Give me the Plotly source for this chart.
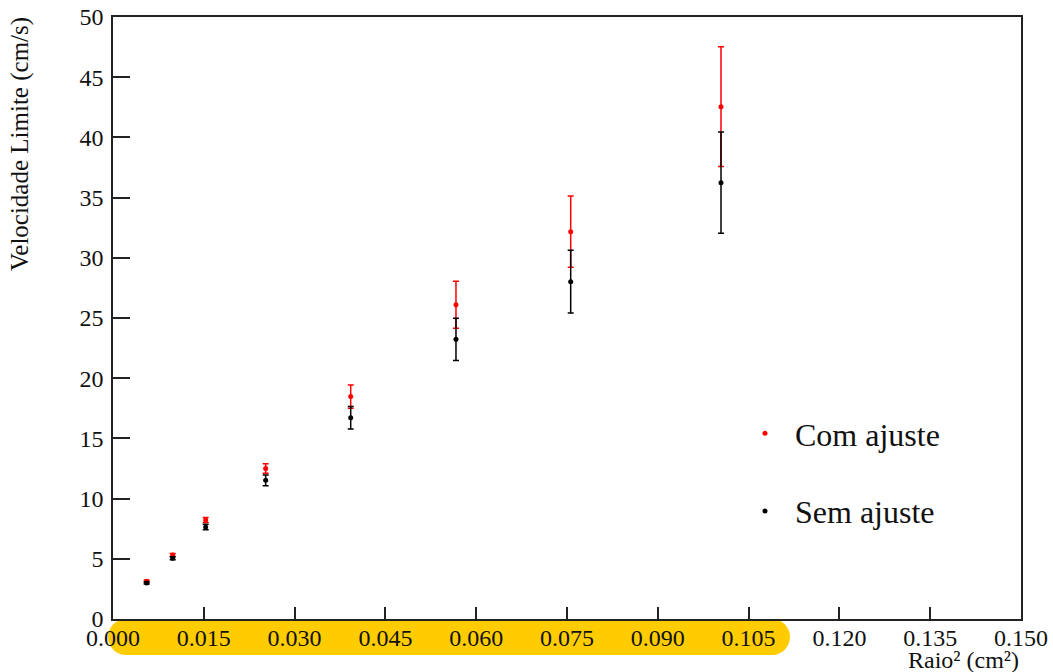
import plotly.graph_objects as go

# ---- data ----
raio2 = [0.00556, 0.00986, 0.01531, 0.02522, 0.03927, 0.05666, 0.07561, 0.10044]
v_com = [3.13, 5.32, 8.22, 12.50, 18.47, 26.10, 32.17, 42.55]
e_com = [0.10, 0.12, 0.20, 0.40, 0.97, 1.95, 2.96, 4.97]
v_sem = [3.00, 5.04, 7.64, 11.52, 16.72, 23.23, 28.02, 36.24]
e_sem = [0.10, 0.12, 0.22, 0.45, 0.93, 1.75, 2.60, 4.20]
xticks = [0.000, 0.015, 0.030, 0.045, 0.060, 0.075, 0.090, 0.105, 0.120, 0.135, 0.150]
yticks = [0, 5, 10, 15, 20, 25, 30, 35, 40, 45, 50]

FONT = "Liberation Serif"
W, H = 1053, 672
ML, MR, MT, MB = 113, 32, 17, 53
PW, PH = W - ML - MR, H - MT - MB

def xp(px):
    return (px - ML) / PW

def yp(py):
    return (H - MB - py) / PH

fig = go.Figure()
fig.add_trace(go.Scatter(
    x=raio2, y=v_com, mode="markers", name="Com ajuste", legendgroup="a",
    marker=dict(color="#ff0000", size=5),
    error_y=dict(type="data", array=e_com, color="#ff0000", thickness=1.5, width=3),
))
fig.add_trace(go.Scatter(
    x=raio2, y=v_sem, mode="markers", name="Sem ajuste", legendgroup="b",
    marker=dict(color="#000000", size=5),
    error_y=dict(type="data", array=e_sem, color="#000000", thickness=1.5, width=3),
))

# yellow highlight band behind x tick labels
L, R, T, B = xp(108), xp(790), yp(619), yp(655)
rx, ry = xp(108 + 18) - xp(108), (T - B) / 2
M = T - ry
k = 0.5523
path = (
    f"M {L+rx},{T} L {R-rx},{T} "
    f"C {R-rx+k*rx},{T} {R},{M+k*ry} {R},{M} "
    f"C {R},{M-k*ry} {R-rx+k*rx},{B} {R-rx},{B} "
    f"L {L+rx},{B} "
    f"C {L+rx-k*rx},{B} {L},{M-k*ry} {L},{M} "
    f"C {L},{M+k*ry} {L+rx-k*rx},{T} {L+rx},{T} Z"
)
fig.add_shape(type="path", path=path, xref="paper", yref="paper",
              fillcolor="#ffcc00", line=dict(width=0), layer="below")

axis_common = dict(
    showgrid=False, zeroline=False, showline=True, linecolor="#222222", linewidth=1.5,
    mirror=True, ticks="inside", tickcolor="#222222", tickwidth=1.5, automargin=False,
    tickfont=dict(family=FONT, size=24, color="#111111"),
)
fig.update_xaxes(range=[0, 0.150], tickvals=xticks, ticktext=[f"{v:.3f}" for v in xticks],
                 ticklen=12, ticklabelstandoff=-4, **axis_common)
fig.update_yaxes(range=[0, 50], tickvals=yticks, ticktext=[str(v) for v in yticks],
                 ticklen=17, ticklabelstandoff=3, **axis_common)

fig.add_annotation(text="Raio² (cm²)", xref="paper", yref="paper", x=1.0, y=yp(660),
                   xanchor="right", yanchor="middle", showarrow=False,
                   font=dict(family=FONT, size=24, color="#111111"))
fig.add_annotation(text="Velocidade Limite (cm/s)", xref="paper", yref="paper",
                   x=xp(20), y=yp(144), xanchor="center", yanchor="middle",
                   textangle=-90, showarrow=False,
                   font=dict(family=FONT, size=25, color="#111111"))

fig.update_layout(
    width=W, height=H,
    margin=dict(l=ML, r=MR, t=MT, b=MB, autoexpand=False),
    paper_bgcolor="white", plot_bgcolor="rgba(0,0,0,0)",
    showlegend=True,
    legend=dict(x=xp(735), y=yp(406), xanchor="left", yanchor="top",
                font=dict(family=FONT, size=32, color="#111111"),
                bgcolor="rgba(0,0,0,0)", tracegroupgap=33, itemsizing="trace",
                itemwidth=50),
)

fig.write_html("out.html", config={"displayModeBar": False},
               post_script="document.body.style.margin='0';document.body.style.overflow='hidden';")
